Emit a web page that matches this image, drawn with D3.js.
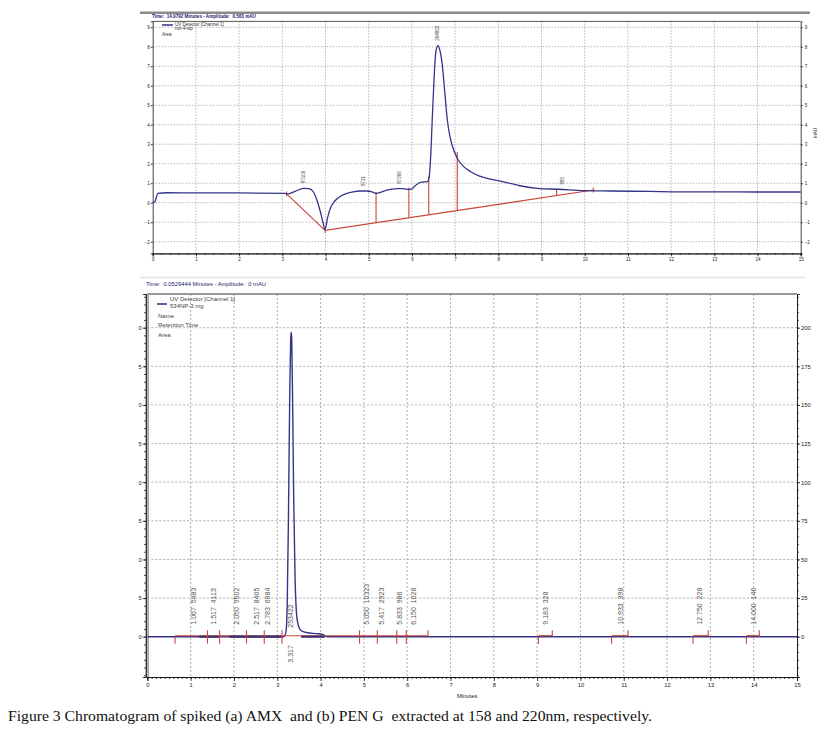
<!DOCTYPE html>
<html><head><meta charset="utf-8">
<script src="https://cdn.jsdelivr.net/npm/d3@7"></script>
<style>body{margin:0;background:#fff}svg{display:block}text{white-space:pre}</style>
</head><body>
<svg id="c" width="821" height="733"></svg>
<script>
// ================= DATA =================
// (a) AMX chromatogram
const topTimes = [0,0.05,0.12,0.33,1.0,2.0,3.07,3.10,3.3,3.49,3.62,3.72,3.80,3.88,3.94,3.99,4.05,4.12,4.22,4.33,4.48,4.64,4.8,4.95,5.08,5.17,5.3,5.42,5.55,5.66,5.8,5.93,6.0,6.05,6.12,6.2,6.3,6.36,6.4,6.44,6.47,6.51,6.55,6.6,6.65,6.7,6.76,6.82,6.88,6.93,7.05,7.2,7.36,7.55,7.74,8.05,8.3,8.5,8.9,9.4,10.0,10.6,11.5,12.2,13.0,14.0,15.0];
const topValues = [0,0.05,0.48,0.51,0.5,0.5,0.48,0.45,0.58,0.74,0.72,0.55,0.14,-0.45,-1.0,-1.37,-0.75,-0.25,0.1,0.31,0.47,0.56,0.6,0.6,0.55,0.48,0.55,0.65,0.7,0.72,0.72,0.68,0.7,0.82,0.95,1.04,1.07,1.08,1.33,2.6,4.24,6.2,7.66,8.05,7.8,7.15,5.7,4.24,3.4,2.96,2.28,1.85,1.59,1.38,1.25,1.11,0.98,0.87,0.74,0.69,0.62,0.6,0.58,0.56,0.56,0.55,0.55];
const topBaseTimes = [3.10,3.99,10.2];
const topBaseValues = [0.45,-1.42,0.65];
const topDropTimes = [5.17,5.93,6.39,7.05,9.35];
const topDropTops = [0.55,0.78,1.35,2.6,0.69];
const topLabelTimes = [3.5,4.88,5.72,6.6,9.48];
const topLabelTexts = ["87109","8721","87266","264822","880"];
const topYTicks = [-2,-1,0,1,2,3,4,5,6,7,8,9];
const xTicks = [0,1,2,3,4,5,6,7,8,9,10,11,12,13,14,15];

// (b) PEN G chromatogram
const botTimes = [0,3.15,3.2,3.23,3.26,3.29,3.31,3.322,3.335,3.36,3.38,3.41,3.44,3.48,3.55,3.7,3.9,4.05,4.15,15];
const botValues = [0,0,3,20,80,160,192,197,192,140,90,40,17,8,4,2.5,2,1.5,0,0];
const peakRT = ["1.067","1.517","2.050","2.517","2.783","3.317","5.050","5.417","5.833","6.150","9.183","10.933","12.750","14.000"];
const peakArea = ["5483","4113","9502","8405","6984","253422","10323","2923","986","1028","328","398","228","146"];
const eventTimes = [0.64,1.39,1.67,2.29,2.70,3.11,4.9,5.31,5.76,5.98,6.48,9.03,9.35,10.72,11.1,12.60,12.95,13.83,14.13];
const eventKinds = ["down","cross","cross","cross","cross","cross","cross","cross","cross","cross","up","down","up","down","up","down","up","down","up"];
const baseStarts = [0.64,9.03,10.72,12.60,13.83];
const baseEnds = [6.48,9.35,11.1,12.95,14.13];
const overlapStarts = [1.2,1.9,3.55];
const overlapEnds = [1.65,3.1,4.1];
const botYTicks = [0,25,50,75,100,125,150,175,200];

// ================= DRAW =================
const svg = d3.select("#c");
const FONT = "Liberation Sans, Arial, sans-serif";
const NAVY = "#34358a", RED = "#c8453a", GRID = "#9a9a9a";

// ---------- (a) top ----------
const xT = d3.scaleLinear([0,15],[152.7,800.7]);
const yT = d3.scaleLinear([-2.6,9.3],[253.4,21.4]);
const gT = svg.append("g");

gT.append("rect").attr("x",140).attr("y",11.5).attr("width",670).attr("height",2.5).attr("fill","#8a8a8a");
gT.append("text").attr("x",152).attr("y",18).attr("font-family",FONT).attr("font-size",4.6)
  .attr("font-weight","bold").attr("fill","#1d1d70").text("Time:  14.9792 Minutes - Amplitude:  0.583 mAU");

// grid
gT.append("g").selectAll("line").data(xTicks.slice(1,-1)).join("line")
  .attr("x1",d=>xT(d)).attr("x2",d=>xT(d)).attr("y1",yT.range()[1]).attr("y2",yT.range()[0])
  .attr("stroke",GRID).attr("stroke-width",0.7).attr("stroke-dasharray","1.5,1.5");
gT.append("g").selectAll("line").data(topYTicks).join("line")
  .attr("x1",xT(0)).attr("x2",xT(15)).attr("y1",d=>yT(d)).attr("y2",d=>yT(d))
  .attr("stroke",GRID).attr("stroke-width",0.7).attr("stroke-dasharray","1.5,1.5");

// frame top
gT.append("line").attr("x1",xT(0)).attr("x2",xT(15)).attr("y1",yT.range()[1]).attr("y2",yT.range()[1]).attr("stroke","#555").attr("stroke-width",1);

// axes
const axL = d3.axisLeft(yT).tickValues(topYTicks).tickSize(2).tickPadding(1).tickFormat(d3.format("d"));
const axR = d3.axisRight(yT).tickValues(topYTicks).tickSize(2).tickPadding(2).tickFormat(d3.format("d"));
const axB = d3.axisBottom(xT).tickValues(xTicks).tickSize(3).tickPadding(1).tickFormat(d3.format("d"));
const axBm = d3.axisBottom(xT).tickValues(d3.range(0,15.01,0.2)).tickSize(1.5).tickFormat("");
[[axL,`translate(${xT(0)},0)`],[axR,`translate(${xT(15)},0)`],[axB,`translate(0,${yT.range()[0]})`],[axBm,`translate(0,${yT.range()[0]})`]]
 .forEach(([ax,tr])=>{
   const g=gT.append("g").attr("transform",tr).call(ax);
   g.selectAll("text").attr("font-family",FONT).attr("font-size",4.5).attr("fill","#222");
   g.selectAll("path,line").attr("stroke","#111").attr("stroke-width",0.8);
 });
gT.append("text").attr("transform","translate(817,133) rotate(-90)").attr("text-anchor","middle")
  .attr("font-family",FONT).attr("font-size",4.5).attr("fill","#222").text("mAU");

// baseline (red)
const lineT = d3.line().x(d=>xT(d[0])).y(d=>yT(d[1]));
gT.append("path").datum(d3.zip(topBaseTimes,topBaseValues)).attr("d",lineT)
  .attr("fill","none").attr("stroke",RED).attr("stroke-width",1.1);
const baseAt = t => {
  for (let i=0;i<topBaseTimes.length-1;i++){
    if (t>=topBaseTimes[i] && t<=topBaseTimes[i+1]) {
      const f=(t-topBaseTimes[i])/(topBaseTimes[i+1]-topBaseTimes[i]);
      return topBaseValues[i]+f*(topBaseValues[i+1]-topBaseValues[i]);
    }
  }
  return topBaseValues[topBaseValues.length-1];
};
gT.append("g").selectAll("line").data(d3.zip(topDropTimes,topDropTops)).join("line")
  .attr("x1",d=>xT(d[0])).attr("x2",d=>xT(d[0])).attr("y1",d=>yT(baseAt(d[0]))).attr("y2",d=>yT(d[1]))
  .attr("stroke",RED).attr("stroke-width",1.1);
gT.append("g").selectAll("line").data(topBaseTimes).join("line")
  .attr("x1",d=>xT(d)).attr("x2",d=>xT(d)).attr("y1",(d,i)=>yT(topBaseValues[i])-2.5).attr("y2",(d,i)=>yT(topBaseValues[i])+2.5)
  .attr("stroke",RED).attr("stroke-width",1);

// signal
gT.append("path").datum(d3.zip(topTimes,topValues))
  .attr("d",d3.line().x(d=>xT(d[0])).y(d=>yT(d[1])).curve(d3.curveMonotoneX))
  .attr("fill","none").attr("stroke",NAVY).attr("stroke-width",1.3);

// peak labels
const interp = (ts,vs,t)=>{ const i=d3.bisectLeft(ts,t); if(i<=0) return vs[0]; if(i>=ts.length) return vs[vs.length-1];
  const f=(t-ts[i-1])/(ts[i]-ts[i-1]); return vs[i-1]+f*(vs[i]-vs[i-1]); };
gT.append("g").selectAll("text").data(d3.zip(topLabelTimes,topLabelTexts)).join("text")
  .attr("transform",d=>`translate(${xT(d[0])+1.5},${yT(interp(topTimes,topValues,d[0]))-5}) rotate(-90)`)
  .attr("font-family",FONT).attr("font-size",4.5).attr("fill","#444").text(d=>d[1]);

// legend
gT.append("line").attr("x1",162).attr("x2",173).attr("y1",25).attr("y2",25).attr("stroke",NAVY).attr("stroke-width",1.5);
gT.append("text").attr("x",175).attr("y",26).attr("font-family",FONT).attr("font-size",4.5).attr("fill","#333").text("UV Detector [Channel 1]");
gT.append("text").attr("x",175).attr("y",30).attr("font-family",FONT).attr("font-size",4.5).attr("fill","#333").text("run-4-sip");
gT.append("text").attr("x",162).attr("y",35.5).attr("font-family",FONT).attr("font-size",4.5).attr("fill","#333").text("Area");

// ---------- (b) bottom ----------
const xB = d3.scaleLinear([0,15],[147.3,797]);
const yB = d3.scaleLinear([-26.1,221.8],[677,294]);
const gB = svg.append("g");

gB.append("line").attr("x1",140).attr("x2",805).attr("y1",277.5).attr("y2",277.5).attr("stroke","#e2e2e2").attr("stroke-width",1.5);
gB.append("text").attr("x",146).attr("y",286).attr("font-family",FONT).attr("font-size",5.8)
  .attr("fill","#1d1d70").text("Time:  0.0529444 Minutes - Amplitude:  0 mAU");

// grid
gB.append("g").selectAll("line").data(xTicks.slice(1,-1)).join("line")
  .attr("x1",d=>xB(d)).attr("x2",d=>xB(d)).attr("y1",yB.range()[1]).attr("y2",yB.range()[0])
  .attr("stroke",GRID).attr("stroke-width",0.8).attr("stroke-dasharray","2,2");
gB.append("g").selectAll("line").data(botYTicks.slice(1)).join("line")
  .attr("x1",xB(0)).attr("x2",xB(15)).attr("y1",d=>yB(d)).attr("y2",d=>yB(d))
  .attr("stroke",GRID).attr("stroke-width",0.8).attr("stroke-dasharray","2,2");

// frame
gB.append("line").attr("x1",xB(0)).attr("x2",xB(15)).attr("y1",294).attr("y2",294).attr("stroke","#777").attr("stroke-width",1.3);
gB.append("line").attr("x1",xB(0)+0.8).attr("x2",xB(0)+0.8).attr("y1",294).attr("y2",677).attr("stroke","#9a9a9a").attr("stroke-width",1.6);

// axes
const bL = d3.axisLeft(yB).tickValues(botYTicks).tickSize(3).tickPadding(1).tickFormat(d=>String(d).slice(-1));
const bLm = d3.axisLeft(yB).tickValues(d3.range(-25,221,5)).tickSize(1.8).tickFormat("");
const bR = d3.axisRight(yB).tickValues(botYTicks).tickSize(3).tickPadding(1).tickFormat(d3.format("d"));
const bRm = d3.axisRight(yB).tickValues(d3.range(-25,221,5)).tickSize(1.8).tickFormat("");
const bX = d3.axisBottom(xB).tickValues(xTicks).tickSize(4).tickPadding(2).tickFormat(d3.format("d"));
const bXm = d3.axisBottom(xB).tickValues(d3.range(0,15.01,0.1)).tickSize(2).tickFormat("");
[[bL,`translate(${xB(0)-1.5},0)`],[bLm,`translate(${xB(0)-1.5},0)`],[bR,`translate(${xB(15)},0)`],[bRm,`translate(${xB(15)},0)`],[bX,`translate(0,677)`],[bXm,`translate(0,677)`]]
 .forEach(([ax,tr])=>{
   const g=gB.append("g").attr("transform",tr).call(ax);
   g.selectAll("text").attr("font-family",FONT).attr("font-size",5.8).attr("fill","#222");
   g.selectAll("path,line").attr("stroke","#111").attr("stroke-width",0.8);
 });
gB.append("text").attr("x",457).attr("y",698).attr("font-family",FONT).attr("font-size",5.8).attr("fill","#222").text("Minutes");

// signal + peak
gB.append("path").datum(d3.zip(botTimes,botValues))
  .attr("d",d3.line().x(d=>xB(d[0])).y(d=>yB(d[1])).curve(d3.curveMonotoneX))
  .attr("fill","none").attr("stroke",NAVY).attr("stroke-width",1.4);

// red integration baselines
gB.append("g").selectAll("line").data(d3.zip(baseStarts,baseEnds)).join("line")
  .attr("x1",d=>xB(d[0])).attr("x2",d=>xB(d[1])).attr("y1",yB(0)-1).attr("y2",yB(0)-1)
  .attr("stroke",RED).attr("stroke-width",1.1);
gB.append("g").selectAll("line").data(d3.zip(overlapStarts,overlapEnds)).join("line")
  .attr("x1",d=>xB(d[0])).attr("x2",d=>xB(d[1])).attr("y1",yB(0)).attr("y2",yB(0))
  .attr("stroke","#3a2f6e").attr("stroke-width",2.2);
gB.append("g").selectAll("line").data(d3.zip(eventTimes,eventKinds)).join("line")
  .attr("x1",d=>xB(d[0])).attr("x2",d=>xB(d[0]))
  .attr("y1",d=>yB(0)-(d[1]==="down"?0:6.5))
  .attr("y2",d=>yB(0)+(d[1]==="up"?0:7))
  .attr("stroke",RED).attr("stroke-width",1.1);

// peak labels
const FS = 7;
gB.append("g").selectAll("text").data(d3.zip(peakRT,peakArea)).join("text")
  .attr("transform",d=>`translate(${xB(+d[0])+2.5},${d[1]==="253422"?yB(0)-9:yB(0)-12}) rotate(-90)`)
  .attr("font-family",FONT).attr("font-size",FS).attr("fill","#555")
  .text(d=>d[1]==="253422"?d[1]:`${d[0]}  ${d[1]}`);
gB.append("text").attr("transform",`translate(${xB(3.317)+2.5},${yB(0)+26}) rotate(-90)`)
  .attr("font-family",FONT).attr("font-size",FS).attr("fill","#555").text(peakRT[5]);

// legend
gB.append("line").attr("x1",157).attr("x2",167).attr("y1",304).attr("y2",304).attr("stroke",NAVY).attr("stroke-width",1.6);
[["UV Detector [Channel 1]",170,301],["534NP-3 mg",170,308],["Name",158,317.5],["Retention Time",158,327],["Area",158,336.5]]
 .forEach(([t,x,y])=>gB.append("text").attr("x",x).attr("y",y).attr("font-family",FONT).attr("font-size",6).attr("fill","#444").text(t));

// caption
svg.append("text").attr("x",8).attr("y",721).attr("font-family","Liberation Serif, serif").attr("font-size",14)
  .attr("textLength",644).attr("lengthAdjust","spacingAndGlyphs").attr("fill","#111")
  .text("Figure 3 Chromatogram of spiked (a) AMX  and (b) PEN G  extracted at 158 and 220nm, respectively.");
</script>
</body></html>
